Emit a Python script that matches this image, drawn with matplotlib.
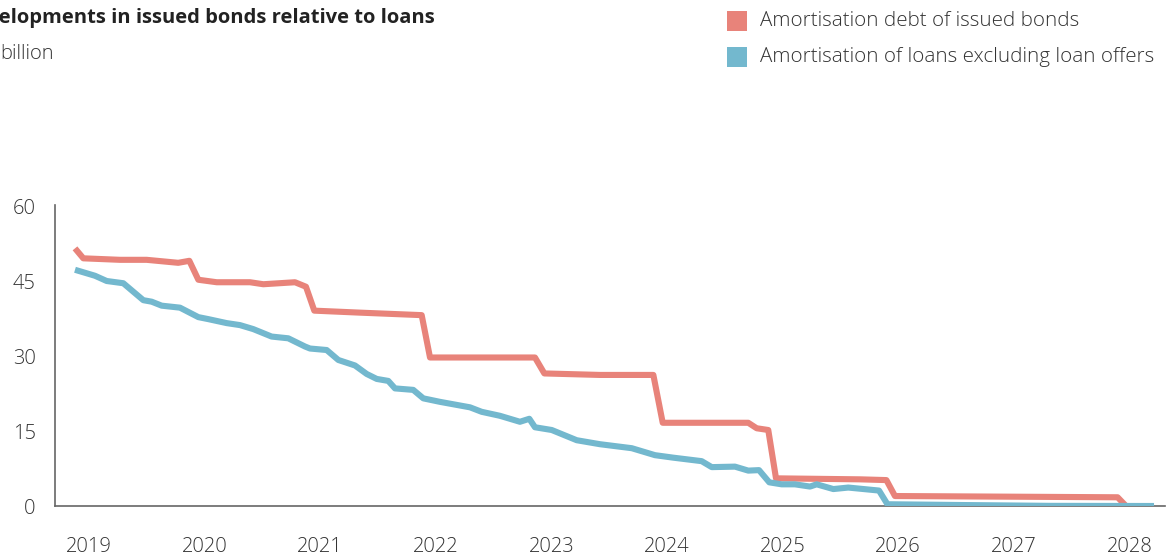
import matplotlib
matplotlib.use("Agg")
import matplotlib.pyplot as plt
from matplotlib.patches import Rectangle

plt.rcParams['font.family'] = ['Open Sans', 'DejaVu Sans']

# ---- data (decimal years, NOK billion) ----
bonds_x = [2018.879, 2018.951, 2019.268, 2019.499, 2019.772, 2019.868, 2019.946,
           2020.105, 2020.393, 2020.508, 2020.782, 2020.877, 2020.949, 2021.344,
           2021.878, 2021.950, 2022.858, 2022.939, 2023.420, 2023.882, 2023.963,
           2024.703, 2024.776, 2024.876, 2024.943, 2025.670, 2025.898, 2025.972,
           2027.898, 2027.971]
bonds_y = [51.7, 49.7, 49.4, 49.4, 48.8, 49.2, 45.4,
           44.9, 44.9, 44.5, 44.9, 44.0, 39.2, 38.8,
           38.3, 29.8, 29.8, 26.6, 26.3, 26.3, 16.7,
           16.7, 15.6, 15.25, 5.55, 5.35, 5.2, 2.0,
           1.75, 0.0]

loans_x = [2018.879, 2019.052, 2019.153, 2019.297, 2019.470, 2019.542, 2019.629,
           2019.787, 2019.946, 2020.032, 2020.191, 2020.306, 2020.421, 2020.580,
           2020.724, 2020.869, 2020.912, 2021.056, 2021.157, 2021.301, 2021.402,
           2021.489, 2021.589, 2021.647, 2021.805, 2021.892, 2022.036, 2022.296,
           2022.397, 2022.555, 2022.728, 2022.809, 2022.858, 2023.003, 2023.219,
           2023.420, 2023.695, 2023.896, 2024.054, 2024.300, 2024.387, 2024.588,
           2024.703, 2024.796, 2024.885, 2024.992, 2025.107, 2025.237, 2025.295,
           2025.439, 2025.568, 2025.834, 2025.907, 2026.530, 2027.313, 2028.213]
loans_y = [47.4, 46.2, 45.15, 44.7, 41.3, 41.0, 40.2,
           39.8, 37.9, 37.5, 36.7, 36.3, 35.5, 34.0,
           33.65, 32.0, 31.6, 31.3, 29.3, 28.2, 26.5,
           25.5, 25.1, 23.6, 23.3, 21.6, 20.9, 19.8,
           18.9, 18.1, 16.9, 17.5, 15.8, 15.25, 13.2,
           12.4, 11.6, 10.2, 9.7, 9.0, 7.8, 7.9,
           7.1, 7.2, 4.75, 4.35, 4.35, 3.9, 4.35,
           3.4, 3.7, 3.1, 0.35, 0.2, 0.03, 0.0]

year_ticks = [2019, 2020, 2021, 2022, 2023, 2024, 2025, 2026, 2027, 2028]
y_ticks = [0, 15, 30, 45, 60]

series_names = ["Amortisation debt of issued bonds",
                "Amortisation of loans excluding loan offers"]
colors = ["#E8837A", "#73B8CE"]

title = "Developments in issued bonds relative to loans"
subtitle = "billion"

# ---- figure ----
W, H = 1166, 558
fig = plt.figure(figsize=(W / 100, H / 100), dpi=100)
ax = fig.add_axes([55 / W, 1 - 506 / H, (1165 - 55) / W, (506 - 205) / H])

ax.plot(loans_x, loans_y, color=colors[1], lw=4.4, solid_joinstyle='round',
        solid_capstyle='butt', zorder=3)
ax.plot(bonds_x, bonds_y, color=colors[0], lw=4.4, solid_joinstyle='round',
        solid_capstyle='butt', zorder=2)

ax.set_xlim(2018.706, 2028.308)
ax.set_ylim(0, 60.4)
ax.set_xticks(year_ticks)
ax.set_xticklabels([str(y) for y in year_ticks])
ax.set_yticks(y_ticks)
ax.tick_params(axis='both', length=0, labelsize=14.5, labelcolor='#333333')
ax.tick_params(axis='x', pad=22)
ax.tick_params(axis='y', pad=14)
for lab in ax.get_xticklabels() + ax.get_yticklabels():
    lab.set_fontweight('light')

for s in ['top', 'right']:
    ax.spines[s].set_visible(False)
for s in ['left', 'bottom']:
    ax.spines[s].set_color('#666666')
    ax.spines[s].set_linewidth(1.2)

# title and subtitle
fig.text(435 / W, 1 - 18 / H, title, ha='right', va='center',
         fontsize=14.5, fontweight='bold', color='#222222')
fig.text(0 / W, 1 - 54 / H, subtitle, ha='left', va='center',
         fontsize=14.5, fontweight='light', color='#333333')

# legend
for i, (name, c) in enumerate(zip(series_names, colors)):
    yc = [21, 57][i]
    fig.patches.append(Rectangle((727 / W, 1 - (yc + 10) / H), 20 / W, 20 / H,
                                 transform=fig.transFigure, facecolor=c,
                                 edgecolor='none'))
    fig.text(760 / W, 1 - yc / H, name, ha='left', va='center',
             fontsize=14.8, fontweight='light', color='#333333')

fig.savefig("out.png", dpi=100)
